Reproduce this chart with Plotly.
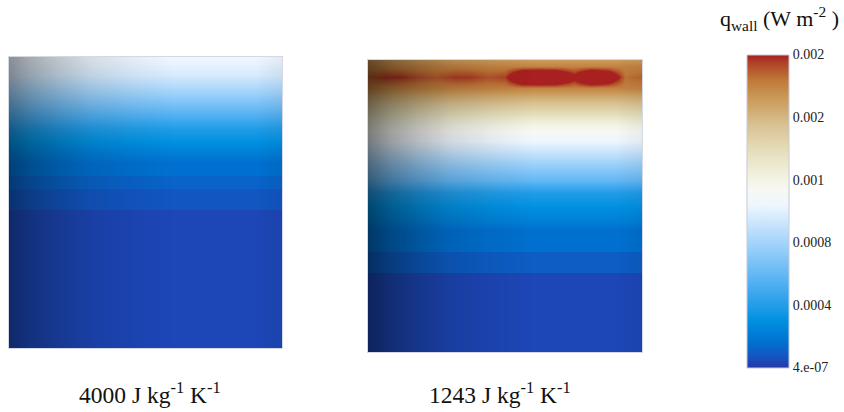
import plotly.graph_objects as go

# ---- wall heat flux fields (W m^-2), sampled on a column x height grid ----
# normalised horizontal positions of the mesh columns
COLS = [0.0, 0.0625, 0.125, 0.1875, 0.25, 0.3125, 0.375, 0.4375, 0.5,
        0.5625, 0.625, 0.6875, 0.75, 0.8125, 0.875, 0.9375, 1.0]

# panel 1: cp = 4000 J kg^-1 K^-1 (heights bottom -> top, values per height)
P1_HEIGHT = [0.0, 0.473, 0.475, 0.545, 0.547, 0.590, 0.592, 0.636,
             0.680, 0.756, 0.818, 0.869, 0.938, 1.0]
P1_QWALL = [4.0e-5, 4.0e-5, 8.0e-5, 8.0e-5, 1.2e-4, 1.2e-4, 1.6e-4, 1.6e-4,
            2.4e-4, 4.0e-4, 6.0e-4, 7.6e-4, 9.6e-4, 1.05e-3]

# panel 2: cp = 1243 J kg^-1 K^-1
P2_HEIGHT = [0.0, 0.270, 0.272, 0.341, 0.343, 0.418, 0.445, 0.497, 0.548,
             0.589, 0.640, 0.692, 0.736, 0.777, 0.818, 0.863, 0.904, 0.942,
             0.979, 1.0]
P2_QWALL = [4.0e-5, 4.0e-5, 1.0e-4, 1.0e-4, 1.6e-4, 1.6e-4, 2.2e-4, 3.0e-4,
            4.0e-4, 6.0e-4, 7.6e-4, 9.4e-4, 1.08e-3, 1.2e-3, 1.4e-3, 1.6e-3,
            1.8e-3, 1.9e-3, 1.8e-3, 1.72e-3]
# hot band near the top of panel 2 (row at height 0.942), value per column
P2_PEAK_HEIGHT = 0.942
P2_PEAK_ROW = [1.90e-3, 1.97e-3, 1.97e-3, 1.92e-3, 1.90e-3, 1.96e-3, 1.96e-3,
               1.91e-3, 1.95e-3, 2.35e-3, 2.40e-3, 2.35e-3, 2.06e-3, 2.40e-3,
               2.25e-3, 1.85e-3, 1.88e-3]

# side lighting of the rendered surfaces (darkening fraction across width)
SHADE_X = [0.0, 0.08, 0.18, 0.30, 0.45, 0.60, 0.90, 1.0]
P1_SHADE = [0.42, 0.30, 0.20, 0.10, 0.04, 0.0, 0.0, 0.05]
P2_SHADE = [0.50, 0.36, 0.24, 0.12, 0.05, 0.0, 0.0, 0.05]

PANEL_LABELS = ["4000 J kg<sup>-1</sup> K<sup>-1</sup>",
                "1243 J kg<sup>-1</sup> K<sup>-1</sup>"]

Q_MIN, Q_MAX = 4e-7, 0.002
TICK_VALS = [4e-7, 0.0004, 0.0008, 0.0012, 0.0016, 0.002]
TICK_TEXT = ["4.e-07", "0.0004", "0.0008", "0.001", "0.002", "0.002"]

COLORSCALE = [
    [0.00, "#2a36a8"], [0.03, "#1650be"], [0.08, "#0070d0"],
    [0.15, "#0090e0"], [0.25, "#44aaf0"], [0.35, "#84c6f8"],
    [0.45, "#c2e2fc"], [0.52, "#eef6fe"], [0.57, "#f8f8f4"],
    [0.63, "#eeeed8"], [0.70, "#e4dcb8"], [0.78, "#d8c090"],
    [0.85, "#cca060"], [0.92, "#c07838"], [0.97, "#b04828"],
    [1.00, "#a82020"],
]

W, H = 844, 412
FONT = "Liberation Serif"


def grid(heights, values, peak=None):
    z = []
    for h, v in zip(heights, values):
        if peak is not None and h == peak[0]:
            z.append(list(peak[1]))
        else:
            z.append([v] * len(COLS))
    return z


fig = go.Figure()

panels = [
    (grid(P1_HEIGHT, P1_QWALL), P1_HEIGHT, P1_SHADE, "x", "y"),
    (grid(P2_HEIGHT, P2_QWALL, (P2_PEAK_HEIGHT, P2_PEAK_ROW)), P2_HEIGHT,
     P2_SHADE, "x2", "y2"),
]

for z, heights, shade, xa, ya in panels:
    fig.add_trace(go.Heatmap(
        x=COLS, y=heights, z=z, coloraxis="coloraxis", zsmooth="best",
        xaxis=xa, yaxis=ya, hoverinfo="skip"))
    fig.add_trace(go.Heatmap(
        x=SHADE_X, y=[0.0, 1.0], z=[shade, shade], zsmooth="best",
        zmin=0, zmax=1, showscale=False, xaxis=xa, yaxis=ya,
        colorscale=[[0, "rgba(0,0,0,0)"], [1, "rgba(0,0,0,1)"]],
        hoverinfo="skip"))

axis_style = dict(range=[0, 1], showgrid=False, zeroline=False,
                  showticklabels=False, ticks="", showline=True,
                  linecolor="#d4d8e4", linewidth=1, mirror=True,
                  fixedrange=True)

fig.update_layout(
    width=W, height=H,
    margin=dict(l=0, r=0, t=0, b=0),
    paper_bgcolor="white", plot_bgcolor="white",
    showlegend=False,
    font=dict(family=FONT),
    xaxis=dict(domain=[9 / W, 282 / W], anchor="y", **axis_style),
    yaxis=dict(domain=[(H - 348) / H, (H - 57) / H], anchor="x", **axis_style),
    xaxis2=dict(domain=[368 / W, 642 / W], anchor="y2", **axis_style),
    yaxis2=dict(domain=[(H - 352) / H, (H - 60) / H], anchor="x2",
                **axis_style),
    coloraxis=dict(
        colorscale=COLORSCALE, cmin=Q_MIN, cmax=Q_MAX,
        colorbar=dict(
            x=747 / W, xanchor="left", xpad=0,
            y=(H - 211) / H, yanchor="middle", ypad=0,
            thickness=42, lenmode="pixels", len=313,
            outlinewidth=1, outlinecolor="#c8cad8",
            ticks="", tickvals=TICK_VALS, ticktext=TICK_TEXT,
            tickfont=dict(family=FONT, size=14, color="#222222"),
        ),
    ),
)

fig.add_annotation(
    x=841 / W, y=1 - 19 / H, xref="paper", yref="paper",
    text="q<sub>wall</sub> (W m<sup>-2</sup> )", showarrow=False,
    font=dict(family=FONT, size=22, color="#111111"),
    xanchor="right", yanchor="middle")

for label, cx in zip(PANEL_LABELS, [150, 500]):
    fig.add_annotation(
        x=cx / W, y=1 - 393 / H, xref="paper", yref="paper",
        text=label, showarrow=False,
        font=dict(family=FONT, size=23.5, color="#111111"),
        xanchor="center", yanchor="middle")

fig.write_html("out.html")
